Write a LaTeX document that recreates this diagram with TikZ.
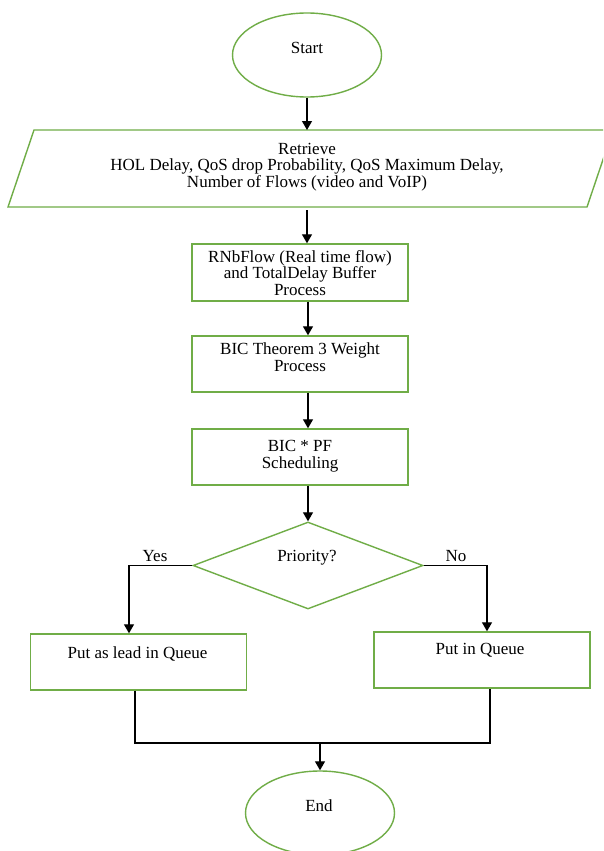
\documentclass[tikz,border=0pt]{standalone}
\usepackage{fontspec}
\setmainfont{Liberation Serif}
\usetikzlibrary{shapes.geometric,arrows.meta}
\definecolor{fcgreen}{RGB}{112,173,71}
\begin{document}
\begin{tikzpicture}[x=1pt,y=-1pt,
  greenline/.style={draw=fcgreen, line width=1.4pt},
  term/.style={greenline, ellipse, minimum width=149pt, minimum height=84pt, inner sep=0pt},
  procbox/.style={greenline, rectangle, minimum width=216pt, inner sep=0pt},
  decision/.style={greenline, diamond, minimum width=230pt, minimum height=87pt, inner sep=0pt},
  txt/.style={font=\fontsize{17}{16.5}\selectfont, align=center, inner sep=0pt},
  conn/.style={draw=black, line width=1.2pt},
  arr/.style={conn, -{Triangle[length=9pt,width=10pt]}}]
\useasboundingbox (0,0) rectangle (603,851);
\clip (0,0) rectangle (603,851);
\fill[white] (0,0) rectangle (603,851);

% Start
\node[term] (start) at (307,55) {};
\node[txt] (starttxt) at (307,48) {Start};

% Parallelogram (input)
\coordinate (ptl) at (34,130);
\coordinate (ptr) at (613,130);
\coordinate (pbr) at (587,207);
\coordinate (pbl) at (8,207);
\draw[greenline] (ptl) -- (ptr) -- (pbr) -- (pbl) -- cycle;
\node[txt] (ret) at (307,167) {Retrieve\\HOL Delay, QoS drop Probability, QoS Maximum Delay,\\Number of Flows (video and VoIP)};
\coordinate (ptop) at (307,130);
\coordinate (pbot) at (307,210);

% Process boxes
\node[procbox, minimum height=57pt] (b1) at (300,272.5) {};
\node[txt] (b1t) at (300,273) {RNbFlow (Real time flow)\\and TotalDelay Buffer\\Process};
\node[procbox, minimum height=56pt] (b2) at (300,364) {};
\node[txt] (b2t) at (300,357) {BIC Theorem 3 Weight\\Process};
\node[procbox, minimum height=56pt] (b3) at (300,457) {};
\node[txt] (b3t) at (300,456) {BIC * PF\\Scheduling};

% Decision
\node[decision] (dec) at (308,565.5) {};
\node[txt] (dect) at (307,558) {Priority?};

% Outcome boxes
\node[procbox, minimum height=56pt] (lb) at (138.5,662) {};
\node[txt] (lbt) at (137.5,654) {Put as lead in Queue};
\node[procbox, minimum height=56pt] (rb) at (482,660) {};
\node[txt] (rbt) at (480,650) {Put in Queue};

% End
\node[term] (end) at (320,813) {};
\node[txt] (endt) at (319,806) {End};

% Labels
\node[txt] (yes) at (155,556) {Yes};
\node[txt] (no) at (456,556) {No};

% Connectors
\draw[arr] (start.south) -- (ptop);
\draw[arr] (pbot) -- (b1.north -| pbot);
\draw[arr] ([xshift=8pt]b1.south) -- ([xshift=8pt]b2.north);
\draw[arr] ([xshift=8pt]b2.south) -- ([xshift=8pt]b3.north);
\draw[arr] ([xshift=8pt]b3.south) -- (dec.north);
\coordinate (ycorner) at (129,565.5);
\draw[arr] (dec.west) -- (ycorner) -- (ycorner |- lb.north);
\coordinate (ncorner) at (487,565.5);
\draw[arr] (dec.east) -- (ncorner) -- (ncorner |- rb.north);
\coordinate (jl) at (135,743);
\coordinate (jr) at (490,743);
\coordinate (jm) at (320,743);
\draw[conn] (jl |- lb.south) -- (jl) -- (jr) -- (jr |- rb.south);
\draw[arr] (jm) -- (end.north);
\end{tikzpicture}
\end{document}
